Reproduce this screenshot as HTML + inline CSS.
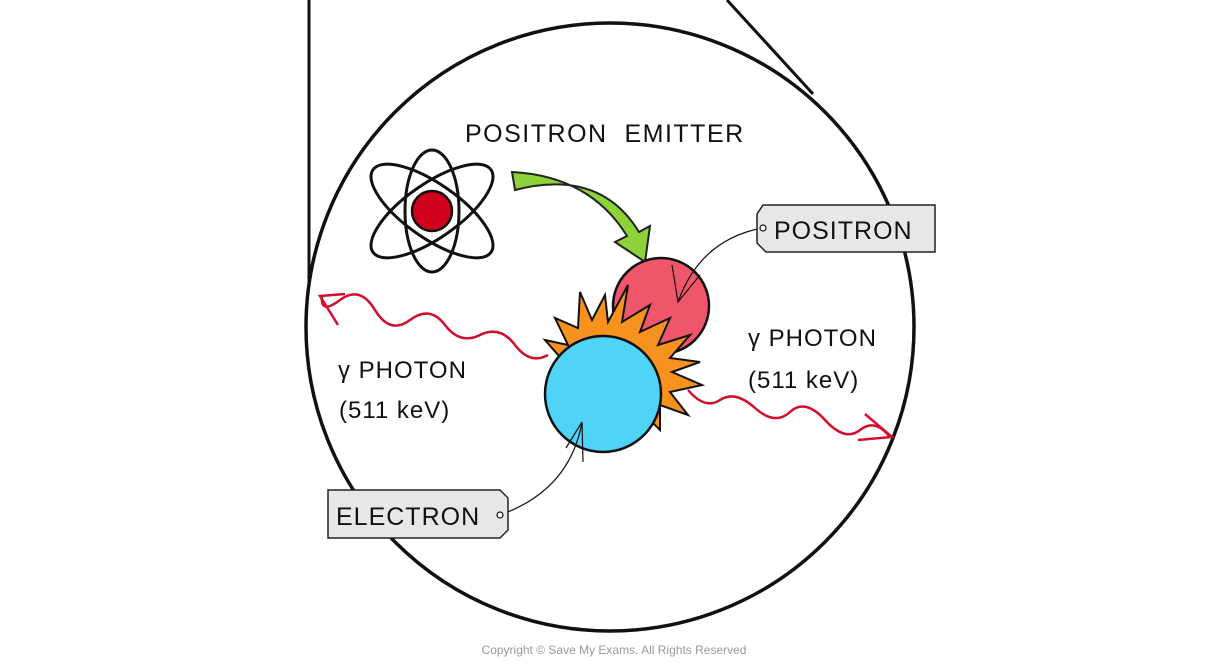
<!DOCTYPE html>
<html><head><meta charset="utf-8"><style>
html,body{margin:0;padding:0;background:#fff;}
svg{display:block;}
text{font-family:"Liberation Sans","DejaVu Sans",sans-serif;fill:#111;}
</style></head><body>
<svg width="1226" height="665" viewBox="0 0 1226 665" xmlns="http://www.w3.org/2000/svg">
<line x1="309" y1="0" x2="309" y2="330" stroke="#111" stroke-width="3"/>
<line x1="727" y1="0" x2="813" y2="94" stroke="#111" stroke-width="3"/>
<circle cx="610" cy="327" r="304" fill="#fff" stroke="#111" stroke-width="3.5"/>
<!-- atom -->
<g fill="none" stroke="#111" stroke-width="3">
<ellipse cx="432" cy="211" rx="27" ry="61"/>
<ellipse cx="432" cy="211" rx="72" ry="27" transform="rotate(35 432 211)"/>
<ellipse cx="432" cy="211" rx="72" ry="27" transform="rotate(-35 432 211)"/>
</g>
<circle cx="432" cy="211" r="20" fill="#d0021b" stroke="#111" stroke-width="2.5"/>
<text x="465" y="142" font-size="25" letter-spacing="1.5">POSITRON&#160;&#160;EMITTER</text>
<!-- green arrow -->
<path d="M512 172 Q590 176 627 236 L615 242 L645 262 L650 226 L639 232 Q600 168 515 190 Z" fill="#8ed23a" stroke="#222" stroke-width="2"/>
<!-- wavy photons -->
<path d="M548 355 Q530 365 515 345 T480 335 T445 325 T410 320 T375 310 T340 300 T322 296" fill="none" stroke="#d0102e" stroke-width="2.5"/>
<path d="M345 294 L320 296 L338 325" fill="none" stroke="#d0102e" stroke-width="2.5"/>
<path d="M688 390 Q705 410 720 400 T755 408 T790 412 T825 420 T860 430 T890 437" fill="none" stroke="#d0102e" stroke-width="2.5"/>
<path d="M865 414 L892 437 L858 440" fill="none" stroke="#d0102e" stroke-width="2.5"/>
<!-- positron -->
<circle cx="661" cy="306" r="48" fill="#f0566a" stroke="#111" stroke-width="2.5"/>
<!-- spikes -->
<path d="M545 340 L568 345 L555 318 L578 328 L580 292 L592 320 L605 295 L608 322 L628 285 L622 322 L650 305 L640 332 L670 318 L658 345 L690 335 L670 358 L700 362 L672 372 L702 385 L670 392 L688 415 L660 405 L660 430 L630 400 L580 380 Z" fill="#f7921e" stroke="#111" stroke-width="2"/>
<circle cx="603" cy="394" r="58" fill="#4fd3f7" stroke="#111" stroke-width="2.5"/>
<!-- pointers -->
<path d="M762 228 Q700 240 678 302" fill="none" stroke="#111" stroke-width="1.2"/>
<path d="M672 265 L678 302 L700 275" fill="none" stroke="#111" stroke-width="1.2"/>
<path d="M500 515 Q570 490 582 422" fill="none" stroke="#111" stroke-width="1.2"/>
<path d="M582 422 L583 462 M582 422 L566 448" fill="none" stroke="#111" stroke-width="1.2"/>
<!-- labels -->
<path d="M763 205 L935 205 L935 252 L766 252 L757 243 L757 214 Z" fill="#e6e8e8" stroke="#222" stroke-width="1.5"/>
<circle cx="763" cy="228" r="3" fill="#fff" stroke="#111" stroke-width="1.2"/>
<text x="774" y="239" font-size="25" letter-spacing="1">POSITRON</text>
<path d="M328 490 L500 490 L508 498 L508 530 L500 538 L328 538 Z" fill="#e6e8e8" stroke="#222" stroke-width="1.5"/>
<circle cx="500" cy="515" r="3" fill="#fff" stroke="#111" stroke-width="1.2"/>
<text x="336" y="525" font-size="25" letter-spacing="1">ELECTRON</text>
<text x="338" y="378" font-size="24" letter-spacing="1">γ PHOTON</text>
<text x="339" y="418" font-size="24" letter-spacing="1">(511 keV)</text>
<text x="748" y="346" font-size="24" letter-spacing="1">γ PHOTON</text>
<text x="748" y="388" font-size="24" letter-spacing="1">(511 keV)</text>
<text x="614" y="654" font-size="12" text-anchor="middle" style="fill:#999">Copyright © Save My Exams. All Rights Reserved</text>
</svg>
</body></html>
